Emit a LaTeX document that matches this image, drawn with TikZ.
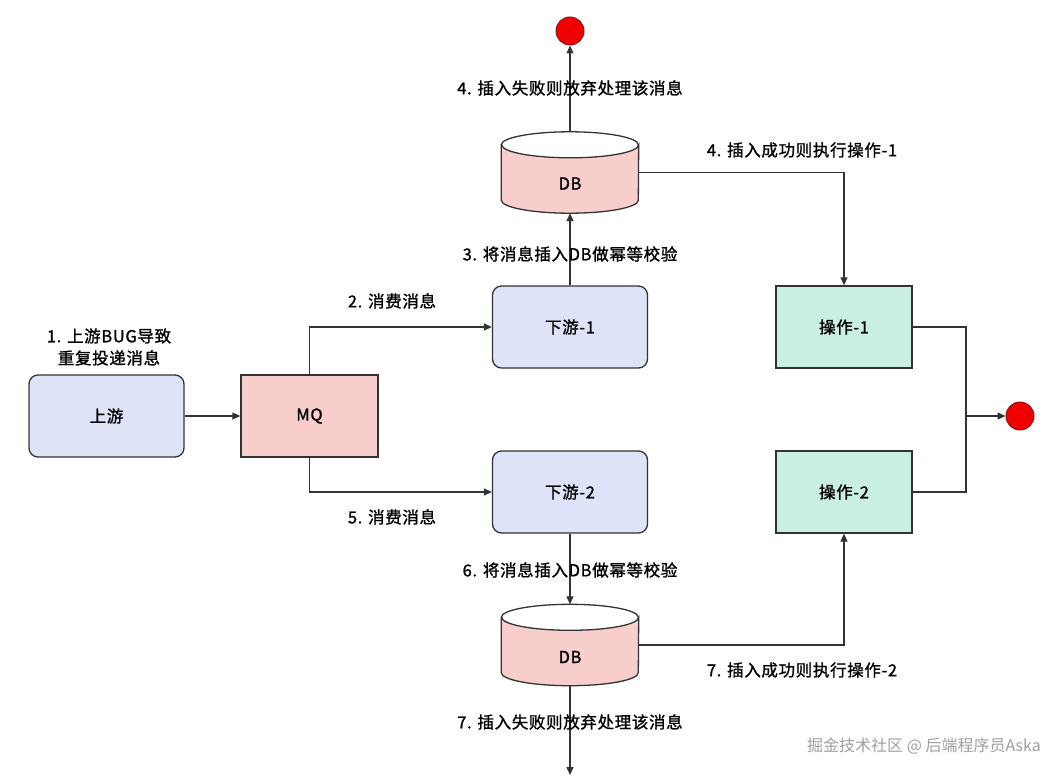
\documentclass[tikz,border=0pt]{standalone}
\usepackage{fontspec}
\setmainfont{Noto Sans CJK SC}[LetterSpace=4,FakeBold=1.2]
\newfontfamily\wmfont{Noto Sans CJK SC}
\usetikzlibrary{arrows.meta}
\definecolor{lav}{HTML}{DFE3F8}
\definecolor{pinkf}{HTML}{F8CECC}
\definecolor{mint}{HTML}{C9EEE4}
\definecolor{edgec}{HTML}{333333}
\definecolor{redc}{HTML}{F00000}
\definecolor{redb}{HTML}{8B1A1A}
\definecolor{wmgray}{HTML}{A0A0A0}
\tikzset{
  every node/.style={font=\fontsize{16.5}{20}\selectfont, text=black},
  rbox/.style={draw=edgec, line width=1.3pt, fill=lav, rounded corners=9pt, minimum width=155pt, minimum height=82pt, inner sep=0pt},
  mqbox/.style={draw=edgec, line width=1.3pt, fill=pinkf, minimum width=137pt, minimum height=82pt, inner sep=0pt},
  opbox/.style={draw=edgec, line width=1.3pt, fill=mint, minimum width=136pt, minimum height=82pt, inner sep=0pt},
  dbbox/.style={draw=none, minimum width=137pt, minimum height=81pt, inner sep=0pt},
  cyl/.style={draw=edgec, line width=1.3pt, fill=pinkf},
  endc/.style={circle, draw=redb, line width=1pt, fill=redc, minimum size=28pt, inner sep=0pt},
  conn/.style={draw=edgec, line width=1.3pt},
  arr/.style={conn, -{Triangle[length=8pt,width=7pt]}},
  lbl/.style={inner sep=1pt},
}
\begin{document}
\begin{tikzpicture}[x=1pt,y=-1pt]
\useasboundingbox[fill=white] (0,0) rectangle (1062,776);
% nodes
\node[rbox] (up) at (106.5,416) {上游};
\node[mqbox] (mq) at (309.5,416) {MQ};
\node[rbox] (ds1) at (570,327) {下游-1};
\node[rbox] (ds2) at (570,492) {下游-2};
\node[opbox] (op1) at (844,327) {操作-1};
\node[opbox] (op2) at (844,492) {操作-2};
\node[endc] (c1) at (570,31) {};
\node[endc] (c2) at (1020,416) {};
% cylinders
\node[dbbox] (db1) at (570,172.5) {};
\node[dbbox] (db2) at (570,645) {};
\foreach \d in {db1,db2}{
  \path[cyl] ([yshift=-13pt]\d.north west) -- ([yshift=13pt]\d.south west)
    arc[start angle=180,end angle=360,x radius=68.5pt,y radius=13pt]
    -- ([yshift=-13pt]\d.north east)
    arc[start angle=0,end angle=-180,x radius=68.5pt,y radius=13pt] -- cycle;
  \draw[conn] ([yshift=-13pt]\d.north west)
    arc[start angle=180,end angle=0,x radius=68.5pt,y radius=13pt];
}
\node (db1t) at ([yshift=-11pt]db1.center) {DB};
\node (db2t) at ([yshift=-12pt]db2.center) {DB};
\coordinate (bot) at (570,775);
\coordinate (j) at (966,416);
% connectors
\draw[arr] (up.east) -- (mq.west);
\draw[arr] (mq.north) |- (ds1.west);
\draw[arr] (mq.south) |- (ds2.west);
\draw[arr] (ds1.north) -- (db1.south);
\draw[arr] (db1.north) -- (c1.south);
\draw[arr] (db1.east) -| (op1.north);
\draw[arr] (ds2.south) -- (db2.north);
\draw[arr] (db2.south) -- (bot);
\draw[arr] (db2.east) -| (op2.south);
\draw[conn] (op1.east) -| (j);
\draw[conn] (op2.east) -| (j);
\draw[arr] (j) -- (c2.west);
% labels
\node[lbl, align=center, font=\fontsize{16.5}{22}\selectfont] (l1) at (109,347) {1. 上游BUG导致\\重复投递消息};
\node[lbl] (l2) at (392,301) {2. 消费消息};
\node[lbl] (l5) at (392,517) {5. 消费消息};
\node[lbl] (l3) at (570,254) {3. 将消息插入DB做幂等校验};
\node[lbl] (l4a) at (570,88) {4. 插入失败则放弃处理该消息};
\node[lbl] (l4b) at (802,150) {4. 插入成功则执行操作-1};
\node[lbl] (l6) at (570,570) {6. 将消息插入DB做幂等校验};
\node[lbl] (l7a) at (570,722) {7. 插入失败则放弃处理该消息};
\node[lbl] (l7b) at (802,670) {7. 插入成功则执行操作-2};
\node[lbl, text=wmgray, anchor=east, font=\wmfont\fontsize{16}{20}\selectfont] (wm) at (1042,746) {掘金技术社区 @ 后端程序员Aska};
\end{tikzpicture}
\end{document}
